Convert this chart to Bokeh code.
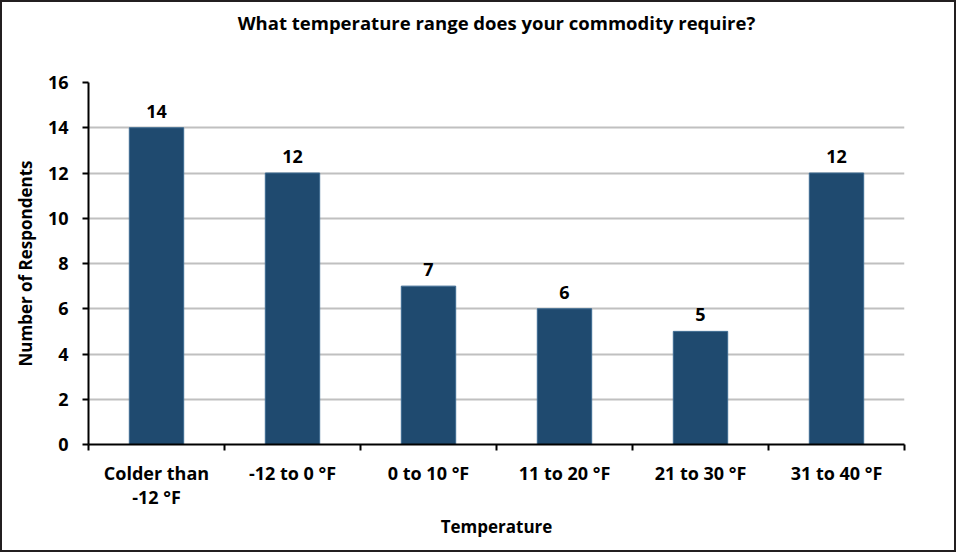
from bokeh.plotting import figure
from bokeh.models import FixedTicker, ColumnDataSource, Title
from bokeh.embed import file_html
from bokeh.resources import INLINE
from bokeh.core.properties import value

categories = ["Colder than\n-12 °F", "-12 to 0 °F", "0 to 10 °F", "11 to 20 °F", "21 to 30 °F", "31 to 40 °F"]
counts = [14, 12, 7, 6, 5, 12]
y_ticks = [0, 2, 4, 6, 8, 10, 12, 14, 16]

FONT = "Open Sans"
BAR = "#1F4A6F"

xs = [i + 0.5 for i in range(len(categories))]
src = ColumnDataSource(dict(x=xs, top=counts, label=[str(c) for c in counts]))

p = figure(frame_width=816, frame_height=362, x_range=(0, len(categories)), y_range=(0, 16),
           output_backend="svg", toolbar_location=None,
           min_border_left=86, min_border_right=50, min_border_top=80, min_border_bottom=106)
p.styles = {"border": "2px solid #231F20"}
p.outline_line_color = None
p.background_fill_color = "white"

spacer = Title(text=" ", text_font=FONT, text_font_size="10px", standoff=27)
p.add_layout(spacer, "above")
t = Title(text="What temperature range does your commodity require?", align="center",
          text_font=FONT, text_font_size="18.5px", text_font_style="bold", text_color="black",
          standoff=10)
p.add_layout(t, "above")

p.vbar(x="x", top="top", width=0.4, source=src, fill_color=BAR, line_color="#3D6A91", line_width=1)
p.text(x="x", y="top", text="label", source=src, text_align="center", text_baseline="bottom",
       y_offset=-10, text_font=value(FONT), text_font_size="18px", text_font_style="bold", text_color="black")

p.xaxis.ticker = FixedTicker(ticks=xs, minor_ticks=list(range(len(categories) + 1)))
p.xaxis.major_label_overrides = {x: c for x, c in zip(xs, categories)}
p.xaxis.major_tick_line_color = None
p.xaxis.minor_tick_line_color = "black"
p.xaxis.minor_tick_out = 6
p.xaxis.minor_tick_in = 0
p.xaxis.minor_tick_line_width = 2
p.xaxis.axis_line_color = "black"
p.xaxis.axis_line_width = 2
p.xaxis.major_label_standoff = 10
p.xaxis.major_label_text_line_height = 1.0
p.xaxis.axis_label = "Temperature"
p.xaxis.axis_label_standoff = 3

p.yaxis.ticker = FixedTicker(ticks=y_ticks)
p.yaxis.minor_tick_line_color = None
p.yaxis.major_tick_line_color = "black"
p.yaxis.major_tick_out = 6
p.yaxis.major_tick_in = 0
p.yaxis.major_tick_line_width = 2
p.yaxis.axis_line_color = "black"
p.yaxis.axis_line_width = 2
p.yaxis.major_label_standoff = 14
p.yaxis.axis_label = "Number of Respondents"
p.yaxis.axis_label_standoff = 8

for ax in (p.xaxis, p.yaxis):
    ax.major_label_text_font = FONT
    ax.major_label_text_font_size = "18px"
    ax.major_label_text_font_style = "bold"
    ax.major_label_text_color = "black"
    ax.axis_label_text_font = FONT
    ax.axis_label_text_font_size = "17px"
    ax.axis_label_text_font_style = "bold"
    ax.axis_label_text_color = "black"

p.xgrid.grid_line_color = None
p.ygrid.ticker = FixedTicker(ticks=y_ticks[1:])
p.ygrid.grid_line_color = "#C0C0C0"
p.ygrid.grid_line_width = 2

open("out.html", "w").write(file_html(p, INLINE))
